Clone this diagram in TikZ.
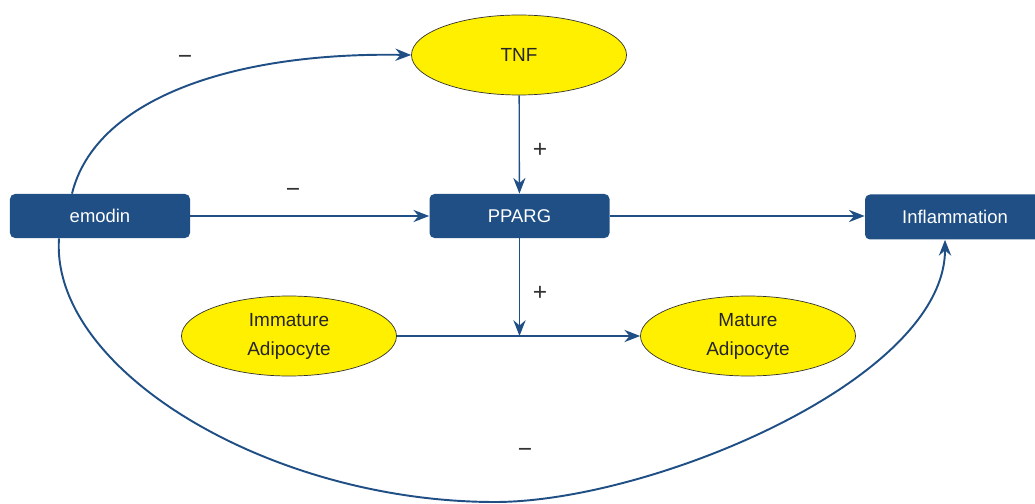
\documentclass[tikz,border=0pt]{standalone}
\usepackage{fontspec}
\setmainfont{Liberation Sans}
\usepackage{tikz}
\usepackage{xcolor}
\definecolor{boxblue}{HTML}{1F4F85}
\definecolor{cellyellow}{HTML}{FFF000}
\usetikzlibrary{arrows.meta,shapes.geometric,calc}
\tikzset{>={Stealth[length=9pt,width=7pt,inset=3pt]}}
\tikzset{
  genebox/.style={draw=none, fill=boxblue, rounded corners=0.1cm, text=white,
    minimum width=3.6cm, minimum height=0.88cm, inner sep=0pt,
    font=\fontsize{10.5}{13}\selectfont},
  cellnode/.style={ellipse, draw=black!80, line width=0.4pt, fill=cellyellow,
    minimum width=4.3cm, minimum height=1.6cm, inner sep=0pt, align=center,
    text=black!85, font=\fontsize{10.8}{16.5}\selectfont},
  link/.style={->, draw=boxblue, line width=0.75pt},
  curvelink/.style={->, draw=boxblue, line width=1.1pt},
  sign/.style={text=black!80, font=\fontsize{14}{16}\selectfont}
}

\begin{document}
\begin{tikzpicture}
    \useasboundingbox (0, 0) rectangle (20.7, -10.08);
    % regulators
    \node[genebox] (emodin) at (2, -4.32) {emodin};
    \node[genebox] (pparg) at (10.39, -4.32) {PPARG};
    \node[genebox, minimum height=0.9cm] (infl) at (19.1, -4.34) {Inflammation};
    % cells
    \node[cellnode] (tnf) at (10.38, -1.1) {TNF};
    \node[cellnode] (immature) at (5.78, -6.72) {Immature\\Adipocyte};
    \node[cellnode] (mature) at (14.96, -6.72) {Mature\\Adipocyte};
    \coordinate (joint) at (pparg.south |- immature.east);
    % straight arrows
    \draw[link] (emodin) -- (pparg);
    \draw[link] (pparg.east) -- (pparg.east -| infl.west);
    \draw[link] (tnf) -- (pparg);
    \draw[link] (pparg) -- (joint);
    \draw[link] (immature.east) -- (mature.west);
    % curved arrows
    \draw[curvelink] ([xshift=-0.56cm]emodin.north) .. controls (1.9, -2.0) and (4.6, -1.04) .. (tnf.west);
    \draw[curvelink] ([xshift=-0.82cm]emodin.south) .. controls (1.0, -7.4) and (5.4, -10.04) .. (9.9, -10.04)
      .. controls (13, -10.04) and (18.9, -7.6) .. ([xshift=-0.2cm]infl.south);
    % signs
    \node[sign] (minustnf) at (3.7, -1.2) {−};
    \node[sign] (minuspparg) at (5.86, -3.86) {−};
    \node[sign] (minusinfl) at (10.5, -9.06) {−};
    \node[sign] (plustnf) at (10.8, -3.0) {+};
    \node[sign] (plusmature) at (10.8, -5.86) {+};
\end{tikzpicture}
\end{document}
